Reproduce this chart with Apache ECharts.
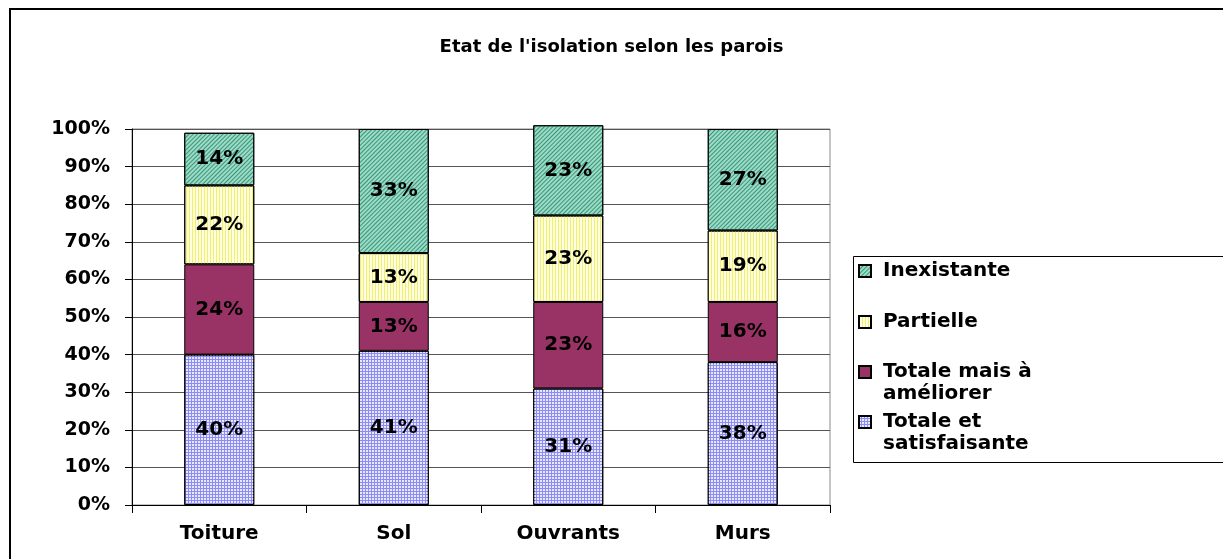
<!DOCTYPE html>
<html>
<head>
<meta charset="utf-8">
<script src="https://cdn.jsdelivr.net/npm/echarts@6/dist/echarts.min.js"></script>
<style>
  html, body { margin: 0; padding: 0; background: #fff; }
  #chart { width: 1223px; height: 559px; }
</style>
</head>
<body>
<div id="chart"></div>
<script>
// parois
var categories = ['Toiture', 'Sol', 'Ouvrants', 'Murs'];

// hauteurs (%) et valeurs affichées
var satisfaisante = [40, 41, 31, 38];
var satisfaisanteText = [40, 41, 31, 38];
var ameliorer = [24, 13, 23, 16];
var ameliorerText = [24, 13, 23, 16];
var partielle = [21, 13, 23, 19];
var partielleText = [22, 13, 23, 19];
var inexistante = [14, 33, 24, 27];
var inexistanteText = [14, 33, 23, 27];

var FONT = 'DejaVu Sans';

function makeSeries(name, data, texts, color, decal) {
  var itemStyle = {
    color: color,
    borderColor: '#000',
    borderWidth: 1
  };
  if (decal) itemStyle.decal = decal;
  return {
    name: name,
    type: 'bar',
    stack: 'total',
    barWidth: 70,
    clip: false,
    data: data,
    itemStyle: itemStyle,
    label: {
      show: true,
      position: 'inside',
      color: '#000',
      fontFamily: FONT,
      fontWeight: 'bold',
      fontSize: 20,
      formatter: function (p) { return texts[p.dataIndex] + '%'; }
    },
    emphasis: { disabled: true }
  };
}

var series = [
  makeSeries('Totale et\nsatisfaisante', satisfaisante, satisfaisanteText, '#8c8cf2', {
    symbol: 'rect', symbolSize: 1, color: 'rgba(255,255,255,0.8)',
    dashArrayX: [2, 1], dashArrayY: [2, 1]
  }),
  makeSeries('Totale mais à\naméliorer', ameliorer, ameliorerText, '#993366', null),
  makeSeries('Partielle', partielle, partielleText, '#ffffe0', {
    symbol: 'rect', symbolSize: 1, color: '#f0f070',
    dashArrayX: [1, 2], dashArrayY: [4, 0]
  }),
  makeSeries('Inexistante', inexistante, inexistanteText, '#9cdcc6', {
    symbol: 'rect', symbolSize: 1, color: '#3a947a',
    dashArrayX: [1, 2], dashArrayY: [4, 0], rotation: Math.PI / 4
  })
];

// une légende par entrée pour placer chaque ligne comme sur l'original
var legendNames = ['Inexistante', 'Partielle', 'Totale mais à\naméliorer', 'Totale et\nsatisfaisante'];
var legendTops = [260, 311, 339, 389];
var legends = legendNames.map(function (n, i) {
  var twoLines = n.indexOf('\n') >= 0;
  return {
    data: [n],
    orient: 'vertical',
    left: 858,
    top: legendTops[i],
    padding: 0,
    icon: 'rect',
    itemWidth: 12,
    itemHeight: 12,
    itemGap: 0,
    selectedMode: false,
    // ligne vide en tête : l'icône se cale sur la première ligne du texte
    formatter: twoLines ? function (name) { return '\n' + name; } : '{name}',
    textStyle: {
      fontFamily: FONT,
      fontWeight: 'bold',
      fontSize: 20,
      color: '#000',
      lineHeight: 22,
      padding: [0, 0, 0, 7]
    }
  };
});

var chart = echarts.init(document.getElementById('chart'));

var option = {
  backgroundColor: '#fff',
  animation: false,
  title: {
    text: "Etat de l'isolation selon les parois",
    left: 'center',
    top: 33,
    textStyle: {
      fontFamily: FONT,
      fontWeight: 'bold',
      fontSize: 18,
      color: '#000'
    }
  },
  legend: legends,
  grid: {
    left: 132,
    right: 393,
    top: 129,
    bottom: 54,
    show: true,
    borderColor: '#888',
    borderWidth: 1
  },
  xAxis: {
    type: 'category',
    data: categories,
    axisLine: { lineStyle: { color: '#000', width: 1 } },
    axisTick: { show: true, length: 8, lineStyle: { color: '#000' } },
    axisLabel: {
      margin: 19,
      color: '#000',
      fontFamily: FONT,
      fontWeight: 'bold',
      fontSize: 20
    }
  },
  yAxis: {
    type: 'value',
    min: 0,
    max: 100,
    interval: 10,
    axisLine: { show: true, lineStyle: { color: '#000', width: 1 } },
    axisTick: { show: true, length: 7, lineStyle: { color: '#000' } },
    axisLabel: {
      margin: 22,
      color: '#000',
      fontFamily: FONT,
      fontWeight: 'bold',
      fontSize: 19,
      formatter: '{value}%'
    },
    splitLine: { lineStyle: { color: '#555', width: 1 } }
  },
  graphic: [
    {
      type: 'rect',
      shape: { x: 10, y: 9, width: 1240, height: 580 },
      style: { fill: 'none', stroke: '#000', lineWidth: 2 },
      silent: true
    },
    {
      type: 'rect',
      shape: { x: 853.5, y: 256.5, width: 400, height: 206 },
      style: { fill: 'none', stroke: '#000', lineWidth: 1 },
      silent: true
    }
  ],
  series: series
};

chart.setOption(option);
</script>
</body>
</html>
